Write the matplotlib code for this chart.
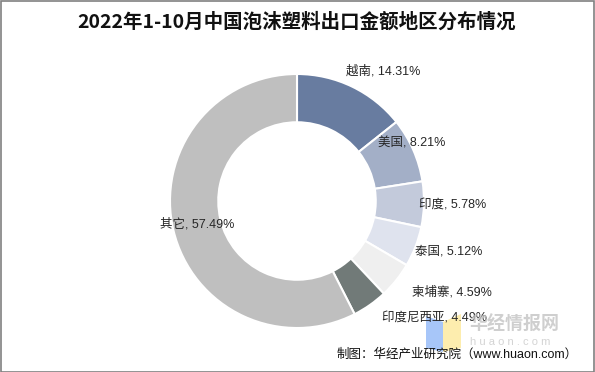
import matplotlib.pyplot as plt
from matplotlib.patches import Rectangle, Polygon

plt.rcParams['font.family'] = ['Liberation Sans', 'Noto Sans CJK SC', 'DejaVu Sans']

regions = ['越南', '美国', '印度', '泰国', '柬埔寨', '印度尼西亚', '其它']
shares = [14.31, 8.21, 5.78, 5.12, 4.59, 4.49, 57.49]
colors = ['#687ca0', '#a3afc7', '#c3cadb', '#dfe3ee', '#efefef', '#717a78', '#bfbfbf']
# label centres in pixels (x, y from top)
label_pos = [(383, 71), (412, 143), (453, 205), (449, 251), (452, 292), (435, 318), (197, 224)]

W, H = 595, 372
fig = plt.figure(figsize=(W / 100, H / 100), dpi=100)

cx, cy, r = 297, 201, 127
ax = fig.add_axes([(cx - r) / W, (H - cy - r) / H, 2 * r / W, 2 * r / H])
ax.pie(shares, colors=colors, startangle=90, counterclock=False, radius=1,
       wedgeprops=dict(width=0.38, edgecolor='white', linewidth=1.5))
ax.set_xlim(-1, 1)
ax.set_ylim(-1, 1)
ax.set_aspect('auto')
ax.axis('off')

for name, v, (px, py) in zip(regions, shares, label_pos):
    fig.text(px / W, 1 - py / H, f'{name}, {v:.2f}%', ha='center', va='center',
             fontsize=9, color='#262626')

fig.text(297 / W, 1 - 22 / H, '2022年1-10月中国泡沫塑料出口金额地区分布情况',
         ha='center', va='center', fontsize=14, fontweight='bold',
         family=['Noto Sans CJK SC'], color='#111111')

# watermark
fig.patches.append(Polygon([(426 / W, 1 - 316 / H), (443 / W, 1 - 322 / H),
                            (443 / W, 1 - 352 / H), (426 / W, 1 - 348 / H)],
                           closed=True, transform=fig.transFigure,
                           facecolor='#8ab4f8', alpha=0.75, edgecolor='none'))
fig.patches.append(Polygon([(443 / W, 1 - 322 / H), (461 / W, 1 - 314 / H),
                            (461 / W, 1 - 348 / H), (443 / W, 1 - 352 / H)],
                           closed=True, transform=fig.transFigure,
                           facecolor='#fde99a', alpha=0.8, edgecolor='none'))
fig.text(470 / W, 1 - 324 / H, '华经情报网', ha='left', va='center', fontsize=13,
         fontweight='bold', family=['Noto Sans CJK SC'], color='#c4c4c4', alpha=0.8)
fig.text(470 / W, 1 - 342 / H, 'h u a o n . c o m', ha='left', va='center', fontsize=8,
         color='#d4d4d4')

fig.text(578 / W, 1 - 355 / H, '制图：华经产业研究院（www.huaon.com）', ha='right',
         va='center', fontsize=9, color='#111111')

fig.patches.append(Rectangle((0.5 / W, 0.5 / H), 1 - 1.5 / W, 1 - 1.5 / H,
                             transform=fig.transFigure, fill=False,
                             edgecolor='#808080', linewidth=1.2))

fig.savefig('out.png', dpi=100, facecolor='white')
